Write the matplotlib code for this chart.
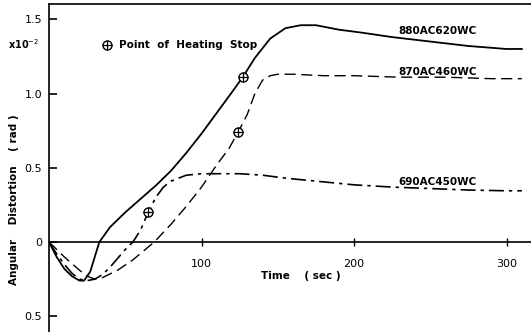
import matplotlib
matplotlib.use("Agg")
import matplotlib.pyplot as plt

# values (angular distortion in 1e-2 rad)
t_880 = [0, 5, 10, 15, 20, 23, 27, 30, 33, 40, 50, 60, 70, 80, 90, 100, 110, 120, 127,
         135, 145, 155, 165, 175, 190, 205, 225, 250, 275, 300, 310]
v_880 = [0, -0.1, -0.18, -0.23, -0.26, -0.26, -0.2, -0.1, 0, 0.1, 0.2, 0.29, 0.38, 0.48,
         0.6, 0.73, 0.87, 1.01, 1.11, 1.24, 1.37, 1.44, 1.46, 1.46, 1.43, 1.41, 1.38,
         1.35, 1.32, 1.30, 1.30]

t_870 = [0, 10, 20, 25, 30, 35, 45, 55, 62, 69, 80, 90, 100, 110, 118, 124, 130, 135,
         140, 145, 150, 160, 180, 200, 230, 260, 290, 310]
v_870 = [0, -0.1, -0.19, -0.23, -0.25, -0.24, -0.19, -0.12, -0.06, 0, 0.12, 0.24, 0.37,
         0.52, 0.63, 0.74, 0.86, 1.0, 1.09, 1.12, 1.13, 1.13, 1.12, 1.12, 1.11, 1.11,
         1.10, 1.10]

t_690 = [0, 5, 10, 15, 20, 25, 30, 35, 40, 45, 50, 55, 60, 65, 70, 75, 80, 90, 100, 110,
         125, 140, 155, 175, 200, 225, 250, 275, 300, 310]
v_690 = [0, -0.08, -0.15, -0.21, -0.25, -0.26, -0.25, -0.22, -0.17, -0.11, -0.05, 0,
         0.08, 0.2, 0.3, 0.37, 0.41, 0.45, 0.46, 0.46, 0.46, 0.45, 0.43, 0.41, 0.385,
         0.37, 0.36, 0.35, 0.345, 0.345]

# points of heating stop
stop_t = [127, 124, 65]
stop_v = [1.11, 0.74, 0.2]

labels = ["880AC620WC", "870AC460WC", "690AC450WC"]
label_pos = [(255, 1.39), (255, 1.11), (255, 0.37)]

xticks = [100, 200, 300]
yticks = [1.5, 1.0, 0.5, 0, -0.5]
yticklabels = ["1.5", "1.0", "0.5", "0", "0.5"]

plt.rcParams['font.family'] = ['DejaVu Sans']
fig = plt.figure(figsize=(5.31, 3.32), dpi=100)
ax = fig.add_axes([0.0923, 0.0, 0.9077, 0.988])

ax.plot(t_880, v_880, color='black', lw=1.3)
ax.plot(t_870, v_870, color='black', lw=1.0, dashes=(8, 4))
ax.plot(t_690, v_690, color='black', lw=1.2, dashes=(9, 3, 2, 3))

ax.plot(stop_t, stop_v, 'o', ms=6.5, mfc='white', mec='black', mew=1.0, ls='none', zorder=5)
ax.plot(stop_t, stop_v, '+', ms=6.5, color='black', mew=0.9, ls='none', zorder=6)

for lab, (x, y) in zip(labels, label_pos):
    ax.text(x, y, lab, fontsize=7.5, fontweight='bold', ha='center', va='bottom')

ax.axhline(0, color='black', lw=1.2)
ax.set_xlim(0, 316)
ax.set_ylim(-0.606, 1.603)

for s in ['right', 'bottom']:
    ax.spines[s].set_visible(False)
ax.spines['left'].set_linewidth(1.2)
ax.spines['top'].set_linewidth(1.2)

ax.set_xticks(xticks)
ax.set_xticklabels([str(x) for x in xticks])
ax.tick_params(axis='x', direction='inout', length=6, width=1.0, pad=9, labelsize=8)
ax.xaxis.set_ticks_position('bottom')
ax.spines['bottom'].set_position(('data', 0))

ax.set_yticks(yticks)
ax.set_yticklabels(yticklabels)
ax.tick_params(axis='y', direction='in', length=6, width=1.2, pad=5, labelsize=8)

# legend-style note and scale
ax.plot([38], [1.33], 'o', ms=6.5, mfc='white', mec='black', mew=1.0, clip_on=False)
ax.plot([38], [1.33], '+', ms=6.5, color='black', mew=0.9, clip_on=False)
ax.text(46, 1.33, "Point  of  Heating  Stop", fontsize=7.5, fontweight='bold', va='center')
fig.text(0.015, 0.868, "x10$^{-2}$", fontsize=7, fontweight='bold', va='center')

fig.text(0.026, 0.40, "Angular    Distortion    ( rad )", rotation=90, fontsize=7.5,
         fontweight='bold', ha='center', va='center')
ax.text(165, -0.23, "Time    ( sec )", fontsize=7.5, fontweight='bold', ha='center', va='center')

fig.savefig("out.png", dpi=100)
